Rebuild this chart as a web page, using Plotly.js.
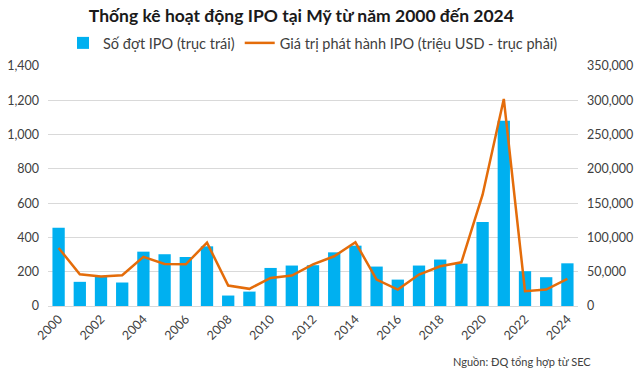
<!DOCTYPE html>
<html>
<head>
<meta charset="utf-8">
<script src="https://cdn.plot.ly/plotly-3.0.1.min.js"></script>
<style>html,body{margin:0;padding:0;background:#fff;}#chart{width:640px;height:371px;}</style>
</head>
<body>
<div id="chart"></div>
<script>
const years = ["2000","2001","2002","2003","2004","2005","2006","2007","2008","2009","2010","2011","2012","2013","2014","2015","2016","2017","2018","2019","2020","2021","2022","2023","2024"];
const ipoCount = [457,141,172,137,317,302,286,348,61,84,222,236,238,313,352,230,154,236,271,247,490,1080,203,168,249];
const ipoValue = [84700,46300,42900,44800,71600,61400,60800,92400,29800,25000,41000,44400,60800,72500,92900,38600,24000,45800,57900,63700,162300,302000,21500,24000,39500];
const tickYears = ["2000","2002","2004","2006","2008","2010","2012","2014","2016","2018","2020","2022","2024"];

const FONT = "Lato, 'Liberation Sans', sans-serif";
const traces = [
  {type:'bar', x:years, y:ipoCount, name:'Số đợt IPO (trục trái)',
   marker:{color:'#00B0F0', line:{width:0}}, yaxis:'y'},
  {type:'scatter', mode:'lines', x:years, y:ipoValue, name:'Giá trị phát hành IPO (triệu USD - trục phải)',
   line:{color:'#E46C0A', width:2.5}, yaxis:'y2'}
];
const layout = {
  width:640, height:371,
  margin:{l:48, r:62, t:66, b:64.5, pad:0},
  paper_bgcolor:'#fff', plot_bgcolor:'#fff',
  font:{family:FONT, size:12, color:'#404040'},
  title:{text:'<b>Thống kê hoạt động IPO tại Mỹ từ năm 2000 đến 2024</b>',
    x:0.478, xanchor:'center', xref:'paper', y:0.958, yanchor:'middle', yref:'container',
    font:{family:FONT, size:17.5, color:'#1a1a1a'}},
  bargap:0.42,
  showlegend:true,
  legend:{orientation:'h', x:0.5, xanchor:'center', y:1.096, yanchor:'middle',
    font:{family:FONT, size:14.5, color:'#404040'}, traceorder:'normal', itemwidth:30, bgcolor:'rgba(0,0,0,0)'},
  xaxis:{type:'category', tickvals:tickYears, ticktext:tickYears, tickangle:-45,
    showgrid:false, zeroline:false, showline:true, linecolor:'#D9D9D9', linewidth:1,
    ticks:'', tickfont:{family:FONT, size:12.5, color:'#404040'}},
  yaxis:{range:[0,1400], dtick:200, tickformat:',', showgrid:true, gridcolor:'#D9D9D9', gridwidth:1,
    zeroline:false, showline:false, ticks:'', ticklabelstandoff:8,
    tickfont:{family:FONT, size:12.5, color:'#404040'}},
  yaxis2:{range:[0,350000], dtick:50000, tickformat:',', overlaying:'y', side:'right',
    showgrid:false, zeroline:false, showline:false, ticks:'', ticklabelstandoff:8,
    tickfont:{family:FONT, size:12.5, color:'#404040'}},
  annotations:[{text:'Nguồn: ĐQ tổng hợp từ SEC', xref:'paper', yref:'paper', x:1.028, y:-0.231,
    xanchor:'right', yanchor:'middle', showarrow:false, font:{family:FONT, size:11, color:'#404040'}}]
};
Plotly.newPlot('chart', traces, layout, {displayModeBar:false, staticPlot:true});
</script>
</body>
</html>
